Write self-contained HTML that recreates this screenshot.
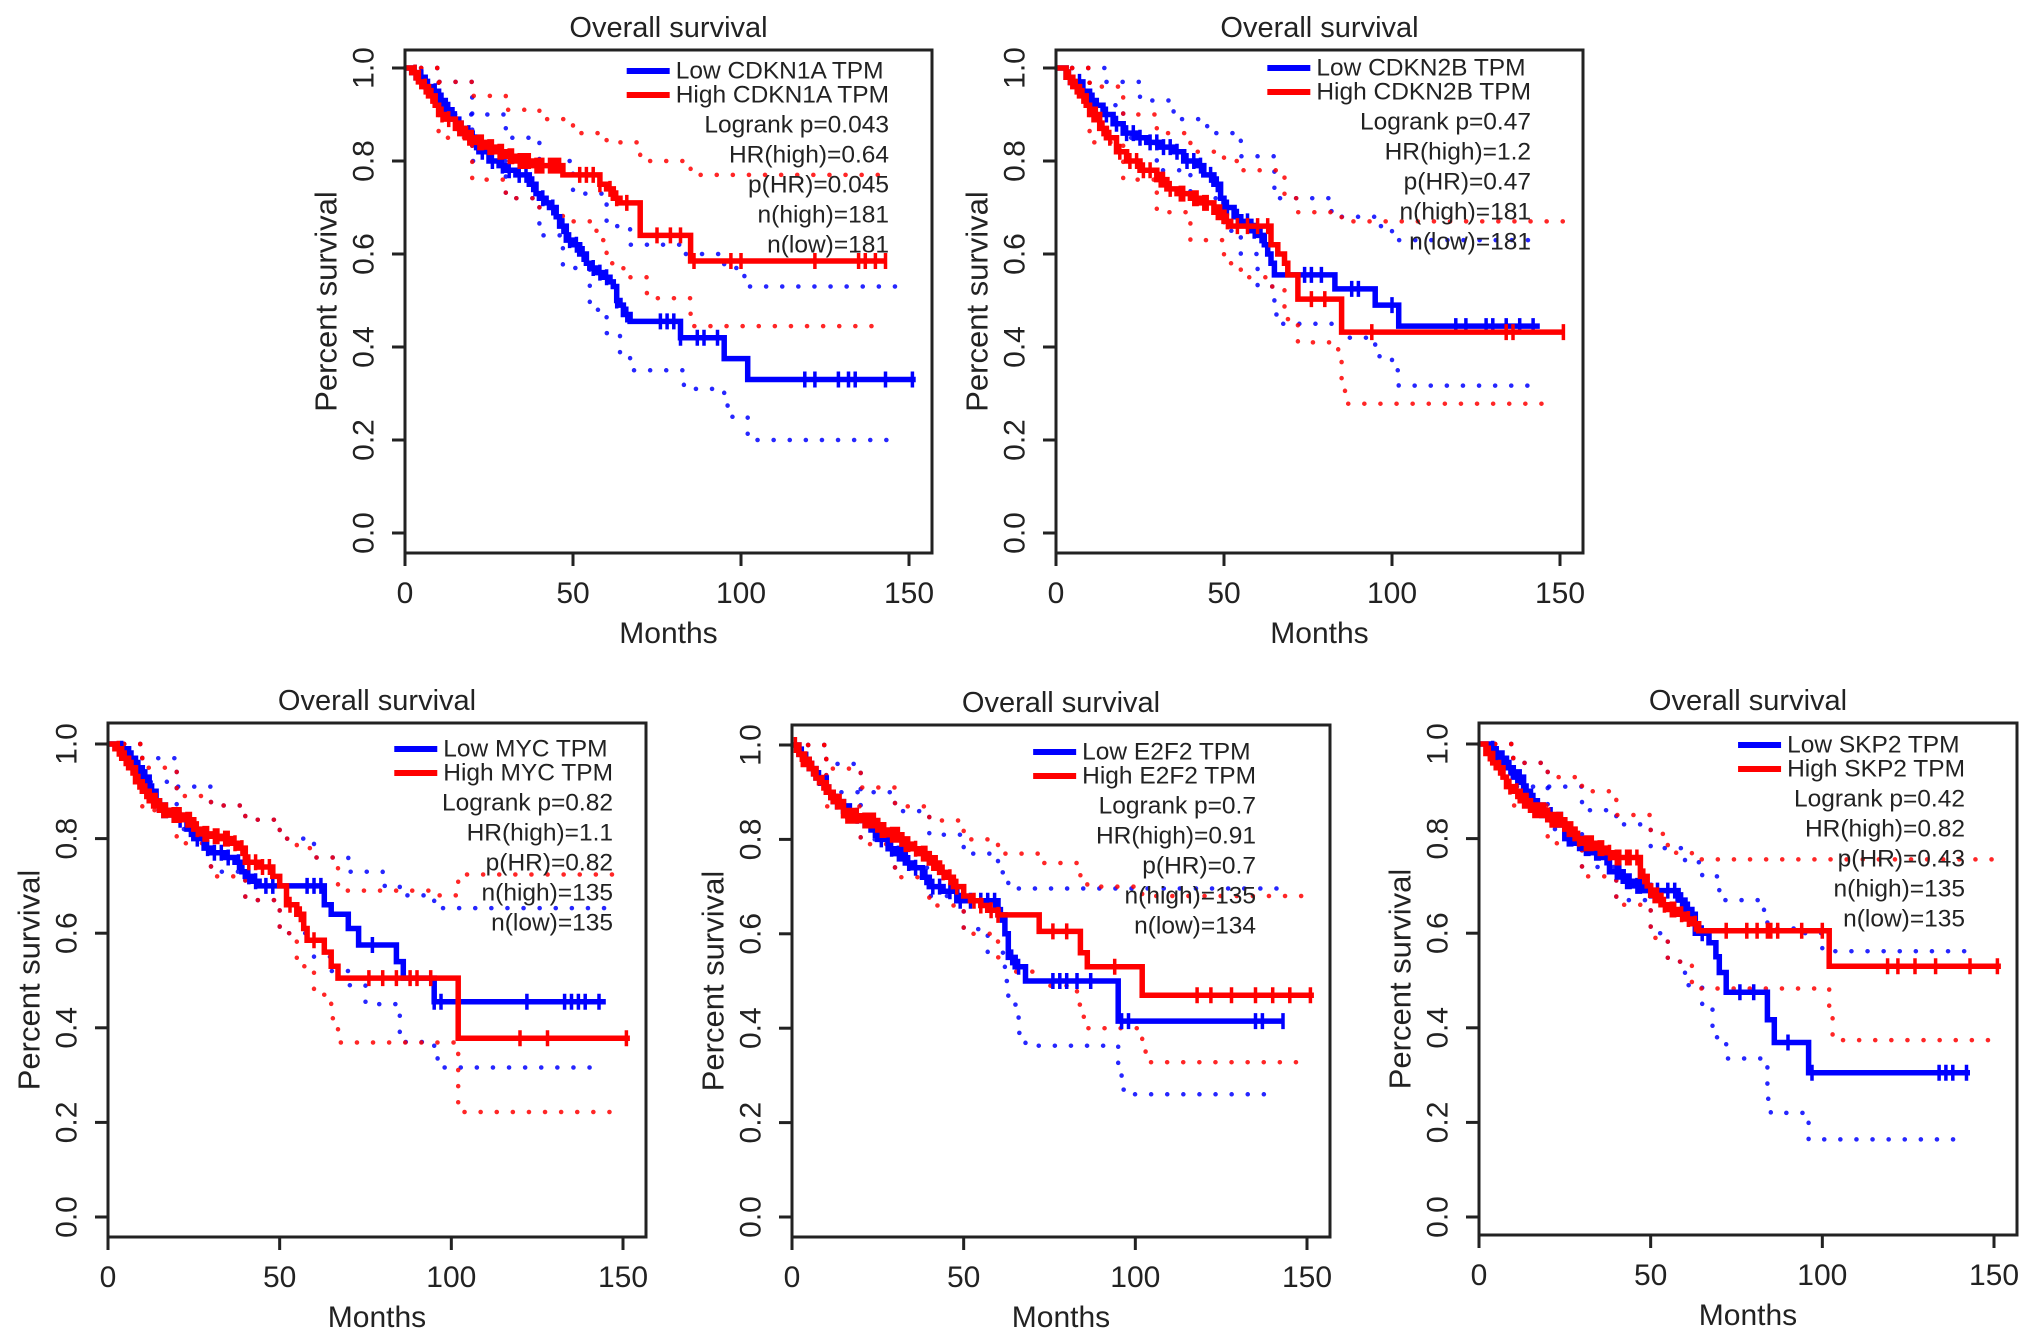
<!DOCTYPE html>
<html><head><meta charset="utf-8"><title>Overall survival KM plots</title>
<style>
html,body{margin:0;padding:0;background:#fff;}
svg{display:block;}
text{font-family:"Liberation Sans",Arial,sans-serif;fill:#222;}
</style></head>
<body>
<svg id="fig" xmlns="http://www.w3.org/2000/svg" width="2032" height="1341" viewBox="0 0 2032 1341"></svg>
<script>
// ---------- data (months, survival) ----------
const xTicks = [0, 50, 100, 150];
const yTicks = [0, 0.2, 0.4, 0.6, 0.8, 1.0];
const yTickLabels = ["0.0", "0.2", "0.4", "0.6", "0.8", "1.0"];

// CDKN1A
const cdkn1aLow = [[2,.99],[4,.98],[6,.96],[8,.95],[10,.93],[12,.91],[14,.89],[16,.87],[18,.86],[20,.84],[22,.82],[25,.8],[28,.79],[30,.78],[33,.77],[37,.75],[39,.73],[40,.72],[42,.71],[43,.7],[45,.68],[46,.66],[48,.63],[50,.62],[52,.6],[54,.58],[55,.57],[57,.56],[59,.55],[61,.54],[62,.53],[63,.5],[64,.49],[65,.47],[67,.455],[82,.42],[95,.375],[102,.33],[152,.33]];
const cdkn1aHigh = [[2,.99],[4,.97],[5,.96],[7,.94],[9,.92],[10,.9],[12,.89],[15,.87],[18,.85],[21,.84],[24,.83],[27,.82],[30,.81],[33,.8],[38,.79],[47,.77],[58,.75],[60,.74],[62,.72],[64,.71],[70,.64],[85,.585],[143,.585]];
const cdkn1aLowCens = [3,5,7,9,11,13,15,17,19,21,23,26,29,31,34,36,38,41,44,47,49,51,53,56,58,60,63,66,76,78,80,82,87,89,93,119,122,129,132,134,143,151];
const cdkn1aHighCens = [3,6,8,11,13,16,17,19,20,22,23,25,26,28,29,31,32,34,35,36,37,39,40,41,43,44,45,46,52,54,56,58,61,63,66,75,79,82,86,97,100,122,135,137,140,143];
const cdkn1aLowUp = [[10,.97],[20,.9],[30,.85],[40,.8],[50,.73],[60,.66],[67,.62],[82,.6],[95,.57],[101,.53],[148,.53]];
const cdkn1aLowLo = [[10,.9],[20,.8],[30,.72],[40,.64],[47,.57],[55,.48],[60,.43],[64,.38],[67,.35],[83,.31],[95,.28],[96,.25],[102,.2],[147,.2]];
const cdkn1aHighUp = [[10,.97],[20,.94],[30,.91],[40,.89],[50,.86],[60,.84],[70,.8],[85,.77],[143,.77]];
const cdkn1aHighLo = [[10,.85],[20,.76],[30,.72],[40,.7],[47,.67],[57,.63],[60,.58],[65,.55],[72,.505],[85,.47],[86,.445],[140,.445]];

// CDKN2B
const cdkn2bLow = [[3,.98],[5,.97],[8,.95],[10,.93],[12,.92],[14,.9],[17,.88],[20,.86],[24,.85],[27,.84],[31,.83],[35,.82],[38,.8],[42,.79],[44,.77],[47,.75],[49,.72],[50,.7],[53,.68],[55,.67],[58,.65],[60,.64],[62,.62],[63,.6],[64,.58],[65,.555],[83,.525],[95,.49],[102,.445],[144,.445]];
const cdkn2bHigh = [[3,.98],[5,.96],[7,.94],[9,.92],[10,.9],[13,.87],[15,.85],[18,.82],[21,.8],[25,.78],[30,.76],[33,.74],[36,.73],[40,.72],[43,.71],[47,.69],[50,.67],[52,.66],[64,.62],[66,.6],[68,.58],[69,.555],[72,.503],[85,.432],[151,.432]];
const cdkn2bLowCens = [4,7,11,15,18,21,23,25,28,30,32,34,36,39,41,43,46,48,51,54,57,59,61,74,76,79,88,90,100,119,122,128,130,134,138,142];
const cdkn2bHighCens = [4,6,8,11,12,14,16,19,22,24,26,28,31,32,34,37,38,41,42,44,45,48,49,51,54,57,60,63,76,80,94,134,136,151];
const cdkn2bLowUp = [[15,.97],[25,.93],[35,.89],[45,.86],[55,.81],[65,.72],[82,.68],[95,.66],[100,.63],[142,.62]];
const cdkn2bLowLo = [[10,.92],[20,.85],[30,.78],[40,.72],[50,.65],[55,.6],[60,.53],[65,.47],[66,.45],[85,.42],[95,.38],[100,.35],[102,.317],[142,.317]];
const cdkn2bHighUp = [[10,.96],[20,.9],[30,.86],[40,.82],[50,.8],[55,.78],[68,.72],[72,.69],[85,.67],[151,.67]];
const cdkn2bHighLo = [[10,.84],[20,.76],[30,.69],[40,.63],[50,.58],[55,.55],[63,.53],[68,.46],[72,.41],[84,.37],[85,.32],[86,.278],[147,.278]];

// MYC
const mycLow = [[3,.99],[6,.97],[8,.95],[10,.93],[12,.9],[14,.88],[15,.86],[18,.85],[20,.84],[23,.82],[25,.8],[28,.78],[30,.77],[34,.76],[37,.75],[39,.73],[40,.72],[42,.71],[44,.7],[63,.66],[65,.64],[70,.61],[73,.575],[84,.54],[86,.505],[95,.455],[145,.455]];
const mycHigh = [[2,.99],[4,.97],[6,.95],[8,.92],[10,.9],[12,.88],[15,.86],[18,.85],[22,.84],[25,.82],[27,.81],[30,.805],[33,.8],[36,.79],[38,.78],[40,.75],[44,.74],[48,.72],[50,.7],[52,.66],[55,.64],[57,.61],[58,.585],[63,.56],[65,.53],[67,.505],[102,.378],[152,.378]];
const mycLowCens = [4,7,9,11,13,16,17,19,21,24,26,29,31,33,35,38,41,43,46,48,58,60,62,77,95,97,122,133,135,137,139,143];
const mycHighCens = [3,5,7,9,11,13,14,16,17,19,20,21,23,24,26,28,29,31,32,34,35,37,39,41,43,45,47,53,56,60,76,80,84,88,90,94,120,128,151];
const mycLowUp = [[10,.97],[20,.91],[30,.87],[40,.84],[50,.8],[60,.76],[70,.73],[80,.7],[85,.68],[95,.653],[145,.653]];
const mycLowLo = [[10,.92],[20,.82],[30,.73],[40,.67],[50,.6],[60,.55],[65,.52],[70,.49],[75,.45],[84,.43],[85,.37],[95,.35],[96,.316],[144,.316]];
const mycHighUp = [[10,.95],[20,.89],[30,.87],[40,.84],[50,.8],[55,.78],[60,.76],[67,.69],[95,.68],[102,.724],[150,.724]];
const mycHighLo = [[10,.86],[20,.79],[30,.72],[40,.67],[50,.6],[55,.53],[60,.47],[65,.42],[67,.369],[102,.222],[150,.222]];

// E2F2
const e2f2Low = [[2,.98],[4,.97],[5,.95],[7,.93],[10,.9],[12,.88],[15,.86],[18,.85],[20,.84],[23,.82],[25,.8],[28,.78],[30,.77],[33,.75],[35,.74],[38,.72],[40,.7],[44,.69],[48,.67],[60,.64],[62,.6],[63,.55],[65,.53],[68,.5],[95,.415],[143,.415]];
const e2f2High = [[2,.98],[3,.97],[5,.95],[7,.93],[8,.92],[10,.9],[12,.88],[15,.85],[20,.84],[25,.82],[28,.81],[32,.79],[35,.78],[37,.77],[40,.75],[43,.73],[45,.72],[47,.7],[50,.68],[52,.67],[55,.66],[57,.65],[60,.64],[72,.605],[84,.56],[86,.53],[102,.47],[152,.47]];
const e2f2LowCens = [3,6,8,11,13,16,17,19,21,22,24,26,29,31,32,34,36,39,41,43,46,49,52,55,57,59,61,64,66,76,78,80,83,87,96,98,135,137,143];
const e2f2HighCens = [1,3,4,6,9,11,13,14,16,17,18,19,21,22,23,24,26,27,29,30,31,33,34,36,38,39,41,42,44,46,48,53,55,58,60,76,80,94,118,122,128,135,140,145,151];
const e2f2LowUp = [[10,.96],[20,.9],[30,.86],[40,.81],[50,.77],[60,.73],[63,.696],[143,.696]];
const e2f2LowLo = [[10,.9],[20,.8],[30,.74],[40,.68],[50,.61],[57,.56],[62,.5],[63,.45],[66,.39],[68,.363],[95,.32],[96,.27],[97,.26],[138,.26]];
const e2f2HighUp = [[10,.95],[20,.91],[30,.87],[40,.84],[50,.8],[60,.77],[72,.75],[84,.72],[86,.7],[102,.68],[150,.68]];
const e2f2HighLo = [[10,.87],[20,.79],[30,.72],[40,.66],[50,.6],[60,.55],[65,.52],[72,.49],[83,.45],[85,.4],[102,.36],[103,.328],[148,.328]];

// SKP2
const skp2Low = [[3,.99],[5,.97],[8,.95],[10,.93],[13,.9],[15,.88],[17,.86],[20,.85],[22,.84],[25,.8],[28,.79],[30,.78],[33,.77],[36,.76],[38,.73],[42,.71],[45,.7],[48,.69],[58,.67],[60,.65],[62,.64],[63,.6],[67,.58],[69,.55],[70,.517],[72,.475],[84,.417],[86,.369],[96,.305],[143,.305]];
const skp2High = [[2,.98],[4,.96],[5,.95],[7,.93],[8,.91],[10,.9],[12,.88],[15,.86],[20,.84],[25,.82],[28,.8],[30,.79],[34,.78],[37,.77],[39,.76],[47,.72],[49,.7],[50,.68],[53,.66],[55,.65],[58,.64],[60,.63],[62,.62],[64,.605],[102,.53],[152,.53]];
const skp2LowCens = [4,6,7,9,11,12,14,16,18,19,21,23,24,26,27,29,31,32,34,35,37,40,41,43,44,46,47,50,52,55,57,59,61,65,76,80,90,97,134,136,138,142];
const skp2HighCens = [3,6,9,11,13,14,16,17,18,19,21,22,23,24,26,27,29,31,32,33,35,36,38,40,41,43,44,46,48,51,52,54,56,57,59,61,63,72,78,81,84,85,87,94,100,119,122,127,133,143,151];
const skp2LowUp = [[10,.96],[20,.91],[30,.86],[40,.83],[50,.78],[60,.75],[65,.72],[70,.67],[83,.64],[84,.61],[95,.6],[100,.562],[142,.562]];
const skp2LowLo = [[10,.91],[20,.82],[30,.74],[40,.67],[50,.6],[55,.54],[60,.49],[65,.44],[68,.38],[72,.335],[84,.25],[85,.22],[95,.2],[96,.164],[142,.164]];
const skp2HighUp = [[10,.96],[20,.93],[30,.9],[40,.85],[50,.81],[55,.77],[62,.756],[150,.756]];
const skp2HighLo = [[10,.87],[20,.79],[30,.72],[40,.66],[50,.59],[55,.54],[62,.49],[64,.483],[102,.44],[103,.374],[150,.374]];

const panels = [
  {id:"cdkn1a", gene:"CDKN1A", boxL:405, boxR:932, boxT:50, boxB:553, y1:68, y0:533, x150:909, legR:889, legT:71,
   stats:["Logrank p=0.043","HR(high)=0.64","p(HR)=0.045","n(high)=181","n(low)=181"],
   low:cdkn1aLow, high:cdkn1aHigh, lowC:cdkn1aLowCens, highC:cdkn1aHighCens, lu:cdkn1aLowUp, ll:cdkn1aLowLo, hu:cdkn1aHighUp, hl:cdkn1aHighLo},
  {id:"cdkn2b", gene:"CDKN2B", boxL:1056, boxR:1583, boxT:50, boxB:553, y1:68, y0:533, x150:1560, legR:1531, legT:68,
   stats:["Logrank p=0.47","HR(high)=1.2","p(HR)=0.47","n(high)=181","n(low)=181"],
   low:cdkn2bLow, high:cdkn2bHigh, lowC:cdkn2bLowCens, highC:cdkn2bHighCens, lu:cdkn2bLowUp, ll:cdkn2bLowLo, hu:cdkn2bHighUp, hl:cdkn2bHighLo},
  {id:"myc", gene:"MYC", boxL:108, boxR:646, boxT:723, boxB:1237, y1:744, y0:1217, x150:623, legR:613, legT:749,
   stats:["Logrank p=0.82","HR(high)=1.1","p(HR)=0.82","n(high)=135","n(low)=135"],
   low:mycLow, high:mycHigh, lowC:mycLowCens, highC:mycHighCens, lu:mycLowUp, ll:mycLowLo, hu:mycHighUp, hl:mycHighLo},
  {id:"e2f2", gene:"E2F2", boxL:792, boxR:1330, boxT:725, boxB:1237, y1:745, y0:1217, x150:1307, legR:1256, legT:752,
   stats:["Logrank p=0.7","HR(high)=0.91","p(HR)=0.7","n(high)=135","n(low)=134"],
   low:e2f2Low, high:e2f2High, lowC:e2f2LowCens, highC:e2f2HighCens, lu:e2f2LowUp, ll:e2f2LowLo, hu:e2f2HighUp, hl:e2f2HighLo},
  {id:"skp2", gene:"SKP2", boxL:1479, boxR:2017, boxT:723, boxB:1235, y1:744, y0:1217, x150:1994, legR:1965, legT:745,
   stats:["Logrank p=0.42","HR(high)=0.82","p(HR)=0.43","n(high)=135","n(low)=135"],
   low:skp2Low, high:skp2High, lowC:skp2LowCens, highC:skp2HighCens, lu:skp2LowUp, ll:skp2LowLo, hu:skp2HighUp, hl:skp2HighLo}
];

const NS = "http://www.w3.org/2000/svg";
const svg = document.getElementById("fig");
function mk(tag, attrs, parent){ const e=document.createElementNS(NS,tag); for(const k in attrs) e.setAttribute(k,attrs[k]); parent.appendChild(e); return e; }

panels.forEach(p => {
  const xS = t => p.boxL + (p.x150 - p.boxL) * t / 150;
  const yS = s => p.y0 + (p.y1 - p.y0) * s;
  const g = mk("g", {}, svg);
  
  

  const stepPath = arr => { let d = "M" + xS(0) + " " + yS(1); arr.forEach(([t,s]) => { d += " H" + xS(t).toFixed(1) + " V" + yS(s).toFixed(1); }); return d; };
  const survAt = (arr, t) => { let s = 1; arr.forEach(([tt,ss]) => { if (tt <= t) s = ss; }); return s; };

  [[p.lu,"#0000ff","low-ci-upper"],[p.ll,"#0000ff","low-ci-lower"],[p.hu,"#ff0000","high-ci-upper"],[p.hl,"#ff0000","high-ci-lower"]].forEach(([arr,col,nm]) => {
    const e = mk("path", {d: stepPath(arr), fill:"none", stroke:col, "stroke-width":4.5, "stroke-dasharray":"0.1 16", "stroke-linecap":"round", opacity:"0.85"}, g);
    
    
  });
  [[p.low,p.lowC,"#0000ff","low-curve"],[p.high,p.highC,"#ff0000","high-curve"]].forEach(([arr,cens,col,nm]) => {
    const e = mk("path", {d: stepPath(arr), fill:"none", stroke:col, "stroke-width":5.5}, g);
    
    
    let d = "";
    cens.forEach(t => { const x = xS(t), y = yS(survAt(arr, t)); d += "M" + x.toFixed(1) + " " + (y-8).toFixed(1) + " V" + (y+8).toFixed(1) + " "; });
    const c = mk("path", {d: d, stroke:col, "stroke-width":3.5, fill:"none"}, g);
    
    
  });

  const fr = mk("rect", {x:p.boxL, y:p.boxT, width:p.boxR-p.boxL, height:p.boxB-p.boxT, fill:"none", stroke:"#222", "stroke-width":3}, g);
  
  

  xTicks.forEach(t => {
    const x = xS(t);
    const tk = mk("line", {x1:x, x2:x, y1:p.boxB, y2:p.boxB+13, stroke:"#222", "stroke-width":3}, g);
    
    
    const lb = mk("text", {x:x, y:p.boxB+50, "text-anchor":"middle", "font-size":30}, g);
    lb.textContent = t;
    
    
  });
  yTicks.forEach((s,i) => {
    const y = yS(s);
    const tk = mk("line", {x1:p.boxL-13, x2:p.boxL, y1:y, y2:y, stroke:"#222", "stroke-width":3}, g);
    
    
    const cx = p.boxL - 41;
    const lb = mk("text", {x:cx, y:y, "text-anchor":"middle", "dominant-baseline":"central", "font-size":30, transform:"rotate(-90 " + cx + " " + y + ")"}, g);
    lb.textContent = yTickLabels[i];
    
    
  });
  const midX = (p.boxL + p.boxR) / 2, midY = (p.boxT + p.boxB) / 2;
  const xt = mk("text", {x:midX, y:p.boxB+90, "text-anchor":"middle", "font-size":30}, g);
  xt.textContent = "Months";
  
  
  const yx = p.boxL - 79;
  const yt = mk("text", {x:yx, y:midY, "text-anchor":"middle", "dominant-baseline":"central", "font-size":31, transform:"rotate(-90 " + yx + " " + midY + ")"}, g);
  yt.textContent = "Percent survival";
  
  
  const tt = mk("text", {x:midX, y:p.boxT-13, "text-anchor":"middle", "font-size":29}, g);
  tt.textContent = "Overall survival";
  
  

  const labels = ["Low " + p.gene + " TPM", "High " + p.gene + " TPM"];
  const rowOff = [0, 24, 54, 84, 114, 144, 174];
  const tmp = mk("text", {"font-size":24.5}, g);
  tmp.textContent = labels[1];
  const w = tmp.getComputedTextLength();
  g.removeChild(tmp);
  const tx = p.legR - w;
  labels.forEach((lab, i) => {
    const y = p.legT + rowOff[i];
    const ln = mk("line", {x1:tx-49, x2:tx-6, y1:y, y2:y, stroke: i===0?"#0000ff":"#ff0000", "stroke-width":6}, g);
    
    
    const t = mk("text", {x:tx, y:y, "dominant-baseline":"central", "font-size":24.5}, g);
    t.textContent = lab;
    
    
  });
  p.stats.forEach((st, i) => {
    const t = mk("text", {x:p.legR, y:p.legT + rowOff[i+2], "text-anchor":"end", "dominant-baseline":"central", "font-size":24.5}, g);
    t.textContent = st;
    
    
  });
});
</script>
</body></html>
